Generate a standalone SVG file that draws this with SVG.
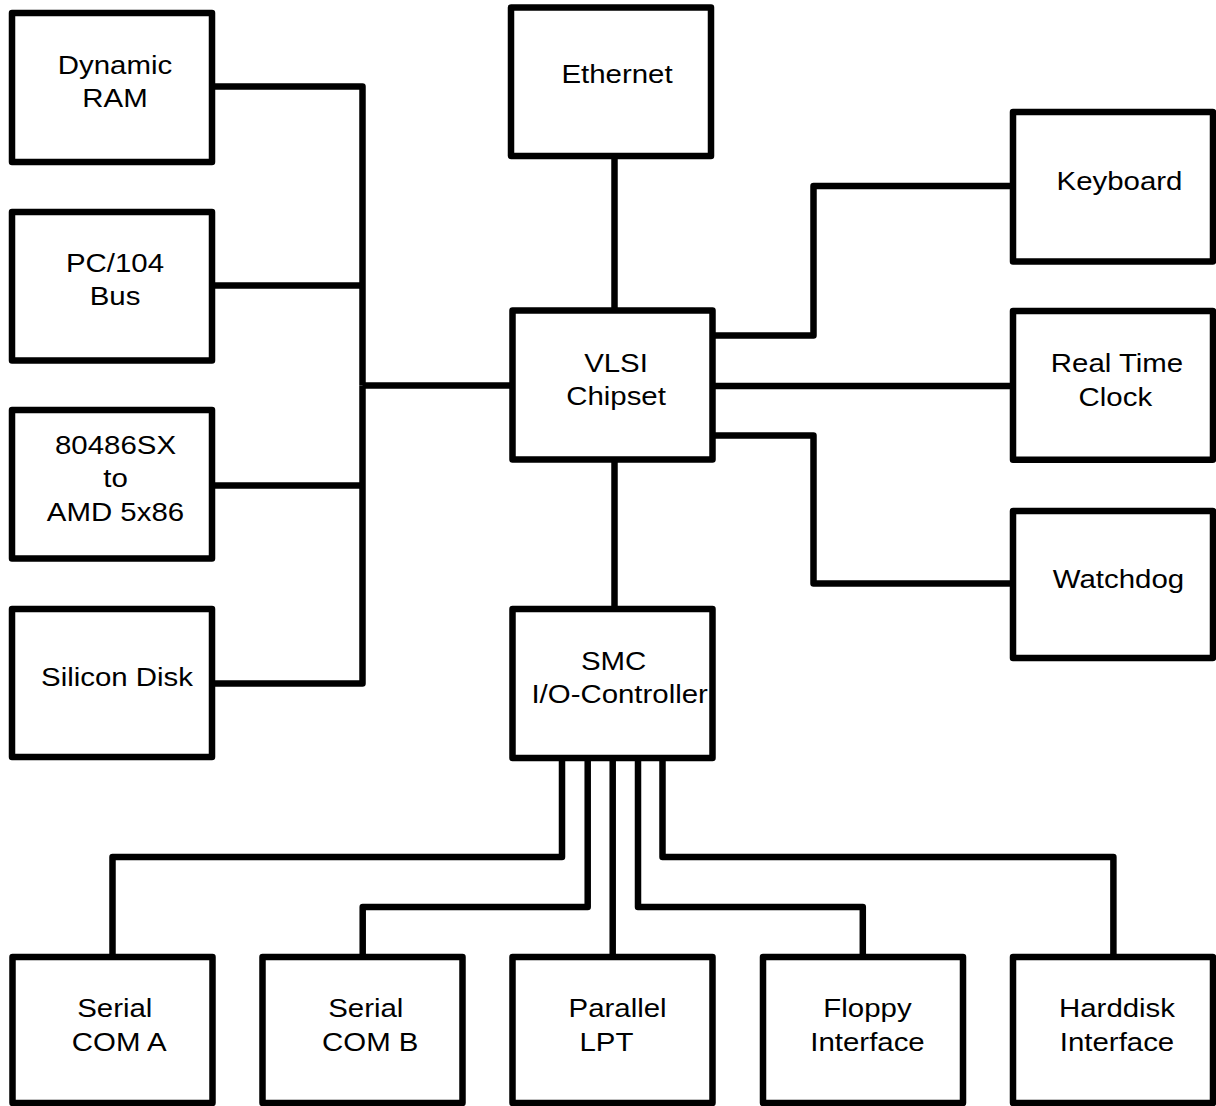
<svg xmlns="http://www.w3.org/2000/svg" width="1216" height="1106" viewBox="0 0 1216 1106">
<style>
.box{fill:#fff;stroke:#000;stroke-width:6.5;stroke-linejoin:round}
.wire{fill:none;stroke:#000;stroke-width:6.5;stroke-linejoin:round}
text{font-family:"Liberation Sans",Arial,sans-serif;font-size:26.5px;fill:#000;text-anchor:middle}
</style>
<rect width="1216" height="1106" fill="#fff"/>
<g id="connectors">
<path class="wire" d="M212,86.5 H362.5 V385.5"/>
<path class="wire" d="M212,285.5 H362.5"/>
<path class="wire" d="M212,485.5 H362.5"/>
<path class="wire" d="M212,683.5 H362.5 V385.5"/>
<path class="wire" d="M362.5,385.5 H512.5"/>
<path class="wire" d="M614.5,156 V310.5"/>
<path class="wire" d="M712.5,335.5 H813.5 V186 H1013"/>
<path class="wire" d="M712.5,386 H1013"/>
<path class="wire" d="M712.5,435.5 H813.5 V583.5 H1013"/>
<path class="wire" d="M614.5,459.5 V609"/>
<path class="wire" d="M562,758 V857 H112.5 V957"/>
<path class="wire" d="M587.7,758 V907 H362.7 V957"/>
<path class="wire" d="M612.7,758 V957"/>
<path class="wire" d="M638,758 V907 H862.8 V957"/>
<path class="wire" d="M662.5,758 V857 H1113.4 V957"/>
</g>
<g id="dram"><rect class="box" x="12" y="13" width="200" height="149"/>
<text transform="matrix(1.11 0 0 1 115 0)"><tspan x="0" y="74">Dynamic</tspan><tspan x="0" y="107">RAM</tspan></text></g>
<g id="pc104"><rect class="box" x="12" y="212" width="200" height="148.5"/>
<text transform="matrix(1.11 0 0 1 115 0)"><tspan x="0" y="272">PC/104</tspan><tspan x="0" y="305">Bus</tspan></text></g>
<g id="cpu"><rect class="box" x="12" y="410" width="200" height="148.5"/>
<text transform="matrix(1.11 0 0 1 115.5 0)"><tspan x="0" y="454">80486SX</tspan><tspan x="0" y="487.5">to</tspan><tspan x="0" y="521.5">AMD 5x86</tspan></text></g>
<g id="silicondisk"><rect class="box" x="12" y="609" width="200" height="148"/>
<text transform="matrix(1.11 0 0 1 117 0)"><tspan x="0" y="686.5">Silicon Disk</tspan></text></g>
<g id="ethernet"><rect class="box" x="511" y="7.5" width="200" height="148.5"/>
<text transform="matrix(1.11 0 0 1 617 0)"><tspan x="0" y="83.5">Ethernet</tspan></text></g>
<g id="vlsi"><rect class="box" x="512.5" y="310.5" width="200" height="149"/>
<text transform="matrix(1.11 0 0 1 616 0)"><tspan x="0" y="372">VLSI</tspan><tspan x="0" y="405.5">Chipset</tspan></text></g>
<g id="smc"><rect class="box" x="512.5" y="609" width="200" height="149"/>
<text transform="matrix(1.11 0 0 1 618 0)"><tspan x="-4" y="670">SMC</tspan><tspan x="1.5" y="703.5">I/O-Controller</tspan></text></g>
<g id="keyboard"><rect class="box" x="1013" y="112" width="200" height="149.5"/>
<text transform="matrix(1.11 0 0 1 1119.5 0)"><tspan x="0" y="190">Keyboard</tspan></text></g>
<g id="rtc"><rect class="box" x="1013" y="311" width="200" height="148.7"/>
<text transform="matrix(1.11 0 0 1 1117 0)"><tspan x="0" y="372">Real Time</tspan><tspan x="-1.5" y="406.5">Clock</tspan></text></g>
<g id="watchdog"><rect class="box" x="1013" y="511" width="200" height="147"/>
<text transform="matrix(1.11 0 0 1 1118.5 0)"><tspan x="0" y="588">Watchdog</tspan></text></g>
<g id="coma"><rect class="box" x="12.5" y="957" width="200" height="146"/>
<text transform="matrix(1.11 0 0 1 117 0)"><tspan x="-2" y="1017.5">Serial</tspan><tspan x="2" y="1051.5">COM A</tspan></text></g>
<g id="comb"><rect class="box" x="262.5" y="957" width="200" height="146"/>
<text transform="matrix(1.11 0 0 1 368 0)"><tspan x="-2" y="1017.5">Serial</tspan><tspan x="2" y="1051.5">COM B</tspan></text></g>
<g id="lpt"><rect class="box" x="512.5" y="957" width="200" height="146"/>
<text transform="matrix(1.11 0 0 1 612 0)"><tspan x="5" y="1017.5">Parallel</tspan><tspan x="-5" y="1051.5">LPT</tspan></text></g>
<g id="floppy"><rect class="box" x="763" y="957" width="200" height="146"/>
<text transform="matrix(1.11 0 0 1 867.5 0)"><tspan x="0" y="1017.5">Floppy</tspan><tspan x="0" y="1051.5">Interface</tspan></text></g>
<g id="harddisk"><rect class="box" x="1013" y="957" width="200" height="146"/>
<text transform="matrix(1.11 0 0 1 1117 0)"><tspan x="0" y="1017.5">Harddisk</tspan><tspan x="0" y="1051.5">Interface</tspan></text></g>
</svg>
